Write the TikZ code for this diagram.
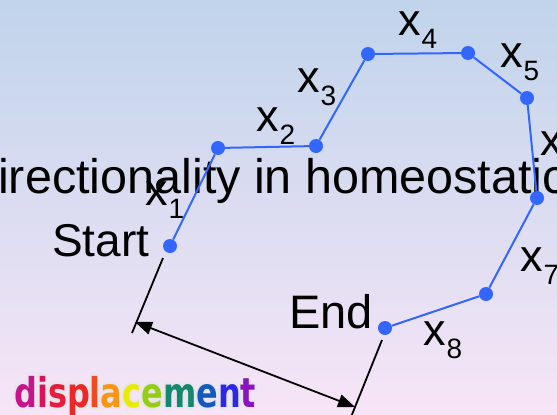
\documentclass[tikz,border=0pt]{standalone}
\usepackage{fontspec}
\setmainfont{Liberation Sans}
\newfontfamily\dispfont[FakeStretch=0.78]{DejaVu Sans}
\usetikzlibrary{arrows.meta}
\definecolor{bgtop}{RGB}{192,212,235}
\definecolor{bgbot}{RGB}{247,229,247}
\definecolor{ptblue}{RGB}{51,102,255}
\definecolor{glow}{RGB}{232,230,236}
\definecolor{rb1}{RGB}{200,20,140}
\definecolor{rb2}{RGB}{215,20,90}
\definecolor{rb3}{RGB}{230,30,60}
\definecolor{rb4}{RGB}{235,40,40}
\definecolor{rb5}{RGB}{240,75,30}
\definecolor{rb6}{RGB}{250,150,20}
\definecolor{rb7}{RGB}{235,235,0}
\definecolor{rb8}{RGB}{150,205,20}
\definecolor{rb9}{RGB}{20,135,110}
\definecolor{rb10}{RGB}{20,90,190}
\definecolor{rb11}{RGB}{45,40,230}
\definecolor{rb12}{RGB}{140,20,190}
\newcommand{\xlab}[1]{x\kern1pt\raisebox{-13pt}{\fontsize{28}{28}\selectfont #1}}
\tikzset{
  dot/.style={circle,fill=ptblue,inner sep=0pt,minimum size=14pt},
  walk/.style={ptblue,line width=2pt},
  lbl/.style={inner sep=0pt,anchor=base west,font=\fontsize{45}{45}\selectfont},
  tick/.style={black,line width=1.8pt},
  disp/.style={inner sep=0pt,anchor=base west,
    font=\dispfont\bfseries\fontsize{41}{41}\selectfont},
}
\begin{document}
\begin{tikzpicture}[x=1pt,y=-1pt]
  \useasboundingbox (0,0) rectangle (557,415);
  \clip (0,0) rectangle (557,415);
  \shade[top color=bgtop,bottom color=bgbot] (0,0) rectangle (557,415);
  % title, cut off at both sides
  \node[inner sep=0pt,anchor=base west,font=\fontsize{48.5}{48.5}\selectfont]
    (title) at (-37,193) {Directionality in homeostatic};
  % the path from start to end
  \node[dot] (p0) at (170,246) {};
  \node[dot] (p1) at (218,148) {};
  \node[dot] (p2) at (316,146) {};
  \node[dot] (p3) at (368,54) {};
  \node[dot] (p4) at (468,53) {};
  \node[dot] (p5) at (527,98) {};
  \node[dot] (p6) at (537,198) {};
  \node[dot] (p7) at (486,294) {};
  \node[dot] (p8) at (385,328) {};
  \draw[walk] (p0) -- (p1) -- (p2) -- (p3) -- (p4) -- (p5) -- (p6)
    -- (p7) -- (p8);
  \node[lbl] (l1) at (145,205) {\xlab{1}};
  \node[lbl] (l2) at (256,131) {\xlab{2}};
  \node[lbl] (l3) at (297,92) {\xlab{3}};
  \node[lbl] (l4) at (398,35) {\xlab{4}};
  \node[lbl] (l5) at (500,67) {\xlab{5}};
  \node[lbl] (l6) at (540,155) {\xlab{6}};
  \node[lbl] (l7) at (520,271) {\xlab{7}};
  \node[lbl] (l8) at (423,345) {\xlab{8}};
  \node[lbl,font=\fontsize{46}{46}\selectfont] (start) at (52,256) {Start};
  \node[lbl,font=\fontsize{47}{47}\selectfont] (end) at (289,328) {End};
  % displacement
  \coordinate (s1) at (163,258);
  \coordinate (s2) at (132,333);
  \coordinate (e1) at (382,340);
  \coordinate (e2) at (349,422);
  \coordinate (a1) at (135,322);
  \coordinate (a2) at (355,407);
  \draw[tick] (s1) -- (s2);
  \draw[tick] (e1) -- (e2);
  \draw[tick,{Triangle[length=17pt,width=13pt]}-{Triangle[length=17pt,width=13pt]}]
    (a1) -- (a2);
  \foreach \a in {0,45,...,315}
    \node[disp,text=glow,shift={(\a:2)}] (glow\a) at (14,407) {displacement};
  \node[disp] (word) at (14,407) {\textcolor{rb1}{d}\textcolor{rb2}{i}%
    \textcolor{rb3}{s}\textcolor{rb4}{p}\textcolor{rb5}{l}\textcolor{rb6}{a}%
    \textcolor{rb7}{c}\textcolor{rb8}{e}\textcolor{rb9}{m}\textcolor{rb10}{e}%
    \textcolor{rb11}{n}\textcolor{rb12}{t}};
\end{tikzpicture}
\end{document}
